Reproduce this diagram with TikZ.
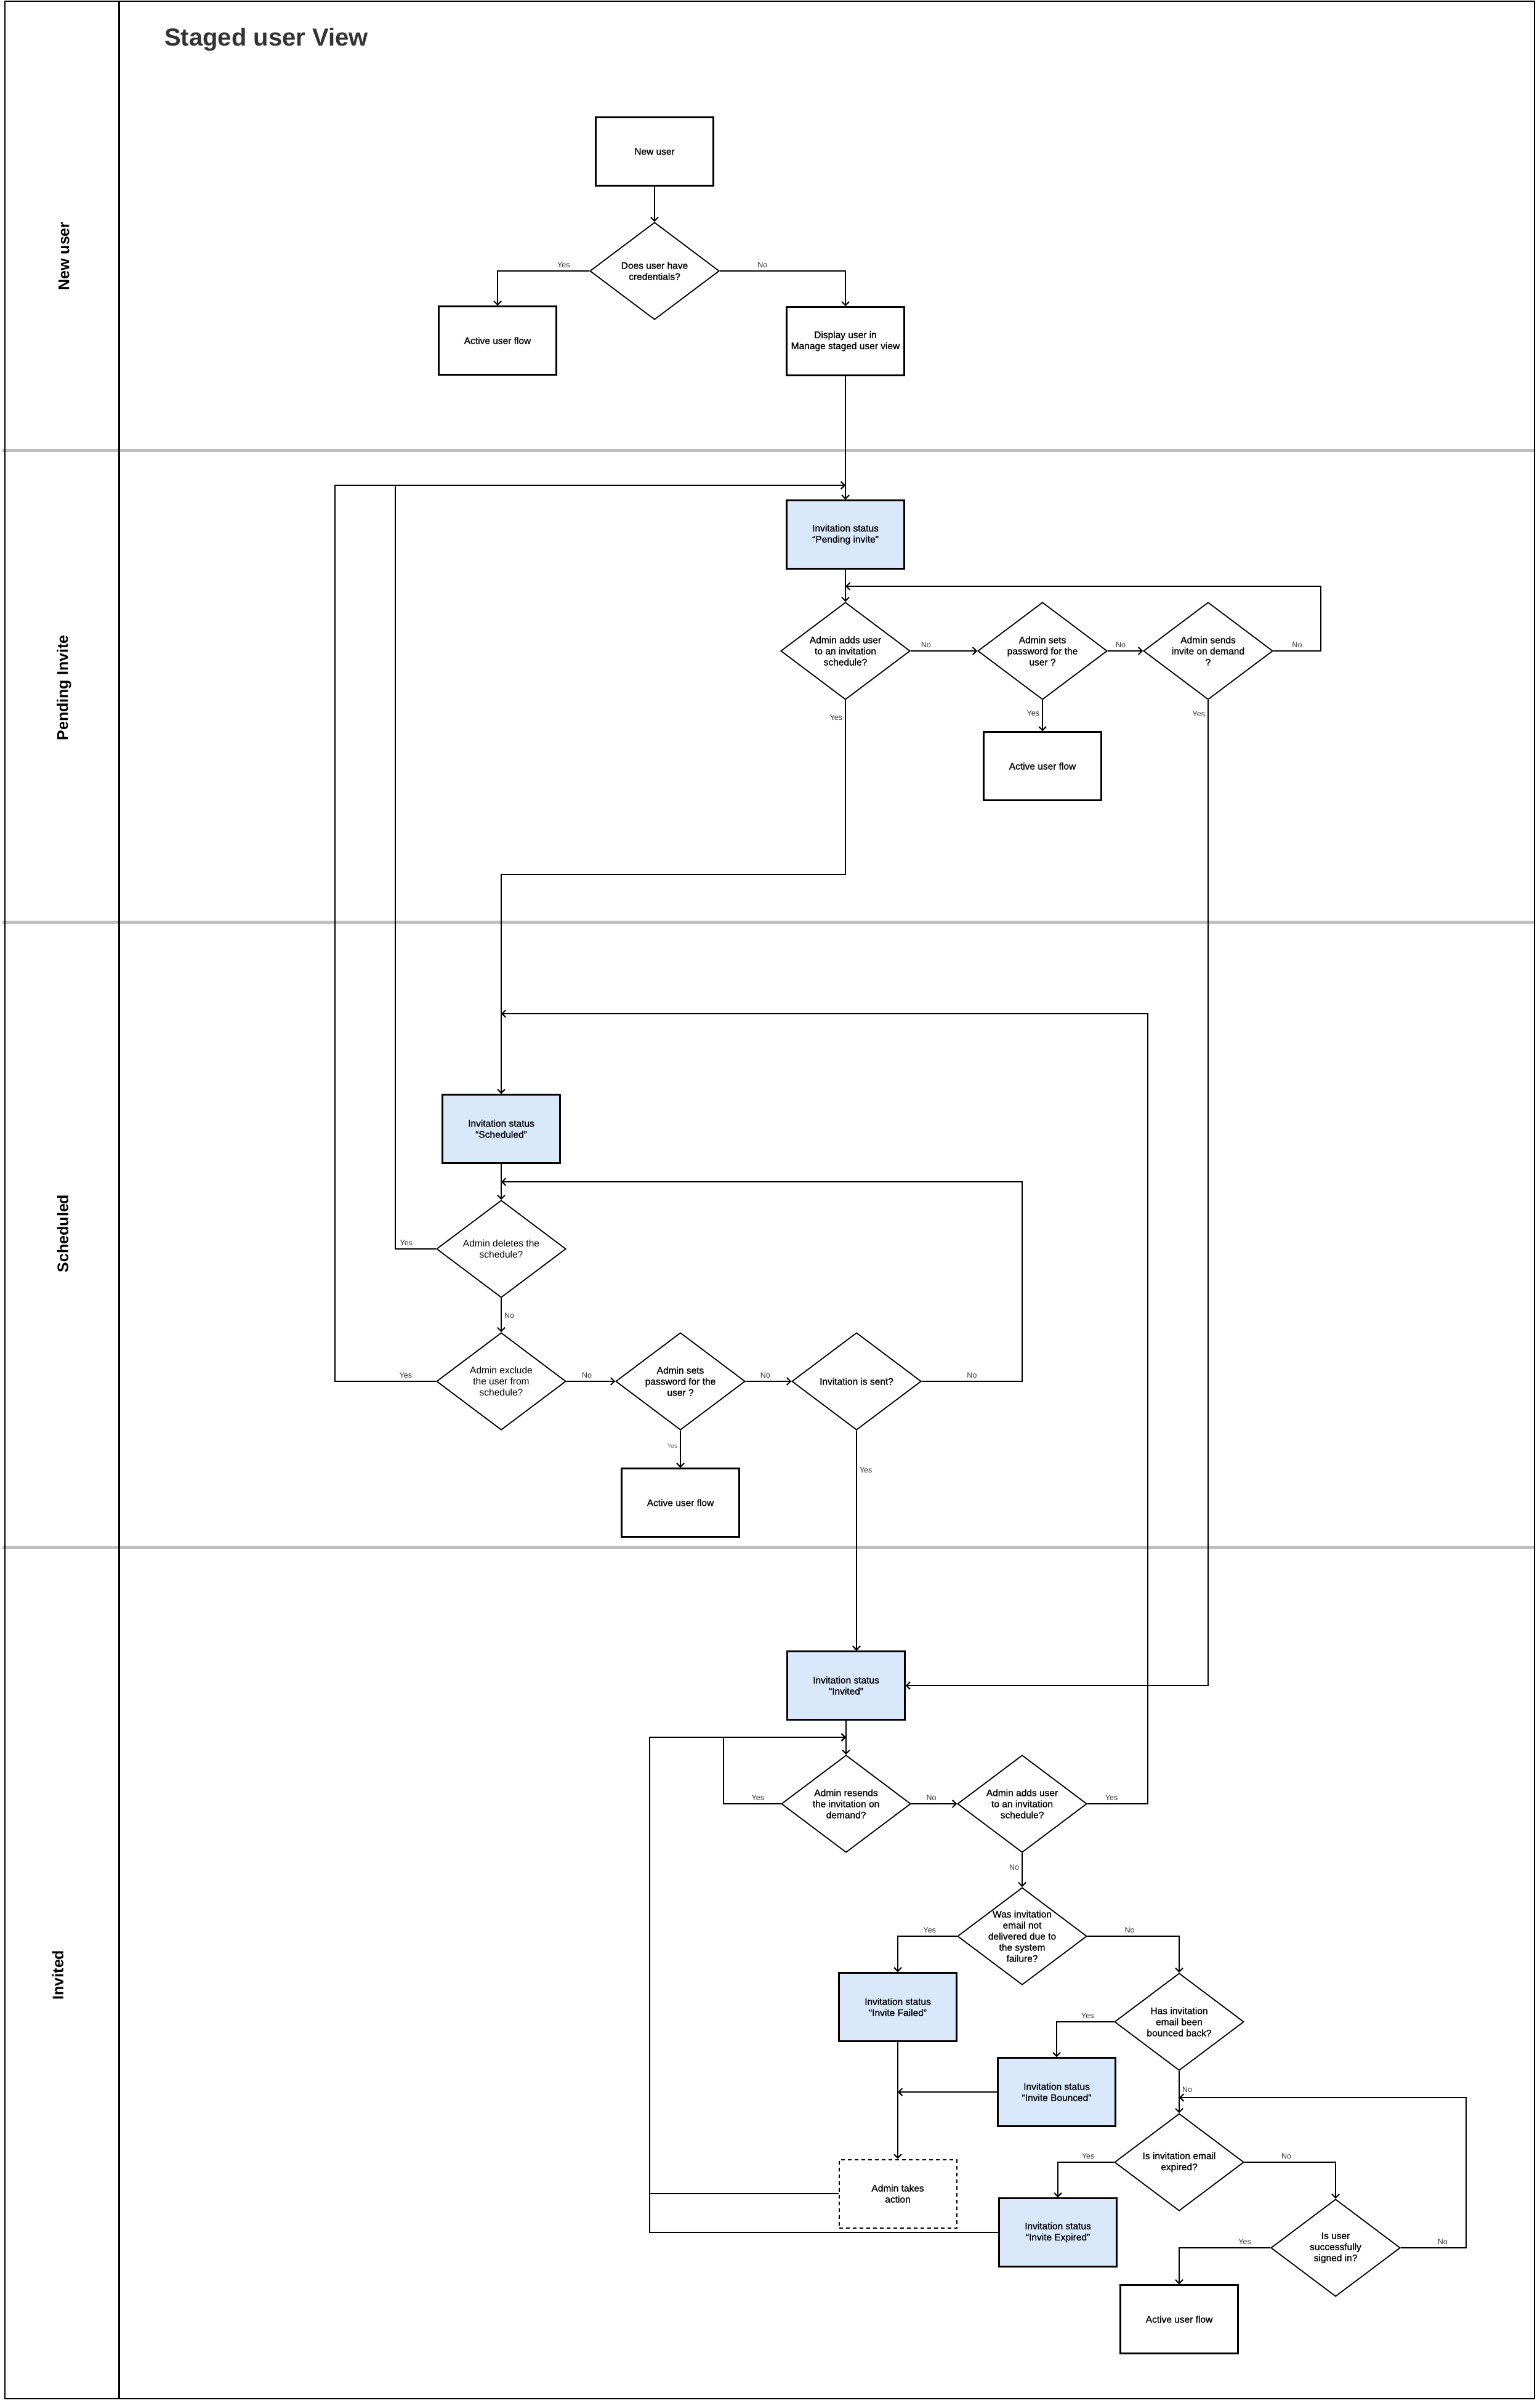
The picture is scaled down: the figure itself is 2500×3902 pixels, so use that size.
\documentclass[tikz,border=0pt]{standalone}
\usepackage{fontspec}
\setmainfont{Liberation Sans}
\newfontfamily\medfamily[FakeBold=1.2]{Liberation Sans}
\usetikzlibrary{shapes.geometric, arrows.meta}

\definecolor{statusblue}{HTML}{DAE8FC}
\definecolor{lanegrey}{HTML}{BFBFBF}
\definecolor{titlegrey}{HTML}{333333}
\definecolor{labelgrey}{HTML}{333333}
\definecolor{softgrey}{HTML}{777777}

\newcommand{\boxfont}{\medfamily\fontsize{15.5}{18}\selectfont}
\newcommand{\plainfont}{\fontsize{15.5}{18}\selectfont}
\newcommand{\lblfont}{\fontsize{12.5}{15}\selectfont}
\newcommand{\yesfont}{\fontsize{10}{12}\selectfont}
\newcommand{\lanefont}{\fontsize{25}{30}\selectfont\bfseries}
\newcommand{\headfont}{\fontsize{40}{48}\selectfont\bfseries}

\tikzset{
  box/.style={draw, line width=2.5pt, fill=white, minimum width=191pt, minimum height=111pt, align=center, font=\boxfont, inner sep=2pt},
  status/.style={box, fill=statusblue},
  todo/.style={box, line width=2pt, dash pattern=on 6pt off 5pt},
  dia/.style={diamond, draw, line width=1.8pt, fill=white, aspect=1.33, inner sep=-6pt, minimum width=210pt, minimum height=158pt, align=center, font=\boxfont},
  wire/.style={line width=2pt},
  flow/.style={wire, -{Straight Barb[length=6pt, width=12pt]}},
  lbl/.style={font=\lblfont, text=labelgrey, inner sep=4pt},
  lane/.style={font=\lanefont, rotate=90, inner sep=0pt},
  heading/.style={font=\headfont, text=titlegrey, anchor=west, inner sep=0pt}
}

\begin{document}
\begin{tikzpicture}[x=1pt, y=-1pt]
\useasboundingbox (0,0) rectangle (2500,3902);

% swimlanes
\draw[lanegrey, line width=5pt] (4,731.7) -- (2492,731.7);
\draw[lanegrey, line width=5pt] (4,1497.5) -- (2492,1497.5);
\draw[lanegrey, line width=5pt] (4,2512) -- (2492,2512);
\draw[line width=2.5pt] (8,2) rectangle (2492,3895);
\draw[line width=2.5pt] (193.5,2) -- (193.5,3895);

\node[heading] (title) at (267,64) {Staged user View};
\node[lane] (lane-new) at (104,416) {New user};
\node[lane] (lane-pend) at (104,1117) {Pending Invite};
\node[lane] (lane-sched) at (102,2003) {Scheduled};
\node[lane] (lane-inv) at (94,3207) {Invited};

% new user
\node[box] (newuser) at (1063,246) {New user};
\node[dia] (cred) at (1063,440) {Does user have\\credentials?};
\node[box] (active1) at (808,553) {Active user flow};
\node[box] (display) at (1373,554) {Display user in\\Manage staged user view};

% pending invite
\node[status] (pending) at (1373,868) {Invitation status\\“Pending invite”};
\node[dia] (addsched) at (1373,1057) {Admin adds user\\to an invitation\\schedule?};
\node[dia] (setpw1) at (1693,1057) {Admin sets\\password for the\\user ?};
\node[dia] (sendinv) at (1962,1057) {Admin sends\\invite on demand\\?};
\node[box] (active2) at (1693,1244) {Active user flow};

% scheduled
\node[status] (sched) at (814,1833) {Invitation status\\“Scheduled”};
\node[dia, font=\plainfont] (delsched) at (814,2028) {Admin deletes the\\schedule?};
\node[dia, font=\plainfont] (exclude) at (814,2243) {Admin exclude\\the user from\\schedule?};
\node[dia] (setpw2) at (1105,2243) {Admin sets\\password for the\\user ?};
\node[dia] (sent) at (1391,2243) {Invitation is sent?};
\node[box] (active3) at (1105,2440) {Active user flow};

% invited
\node[status] (invited) at (1374,2737) {Invitation status\\“Invited”};
\node[dia] (resend) at (1374,2929) {Admin resends\\the invitation on\\demand?};
\node[dia] (addsched2) at (1660,2929) {Admin adds user\\to an invitation\\schedule?};
\node[dia] (fail) at (1660,3144) {Was invitation\\email not\\delivered due to\\the system\\failure?};
\node[status] (failed) at (1458,3259) {Invitation status\\“Invite Failed”};
\node[dia] (bounced) at (1915,3283) {Has invitation\\email been\\bounced back?};
\node[status] (bouncedbox) at (1716,3397) {Invitation status\\“Invite Bounced”};
\node[dia] (expired) at (1915,3511) {Is invitation email\\expired?};
\node[todo] (action) at (1458,3562) {Admin takes\\action};
\node[status] (expiredbox) at (1718,3625) {Invitation status\\“Invite Expired”};
\node[dia] (signed) at (2169,3650) {Is user\\successfully\\signed in?};
\node[box] (active4) at (1915,3766) {Active user flow};

% bends and joins
\coordinate (pi-top) at (1373,788);
\coordinate (pi-loop) at (1373,952);
\coordinate (pi-r) at (2145,1057);
\coordinate (pi-y) at (1373,1420);
\coordinate (sc-top) at (814,1646);
\coordinate (sc-loop) at (814,1919);
\coordinate (sc-r) at (1660,2243);
\coordinate (del-l) at (642,2028);
\coordinate (exc-l) at (544,2243);
\coordinate (iv-loop) at (1374,2821);
\coordinate (res-l) at (1175,2929);
\coordinate (add-r) at (1864,2929);
\coordinate (iv-x) at (1055,3600);
\coordinate (sg-r) at (2381,3650);
\coordinate (bx-loop) at (1915,3406);

\draw[flow] (newuser) -- (cred);
\draw[flow] (cred.west) -| node[lbl, above, pos=0.14] {Yes} (active1.north);
\draw[flow] (cred.east) -| node[lbl, above, pos=0.17] {No} (display.north);
\draw[flow] (display) -- (pending);

\draw[flow] (pending) -- (addsched);
\draw[flow] (addsched) -- node[lbl, above, pos=0.23] {No} (setpw1);
\draw[flow] (setpw1) -- node[lbl, above, pos=0.37] {No} (sendinv);
\draw[flow] (sendinv.east) -- node[lbl, above] {No} (pi-r) |- (pi-loop);
\draw[flow] (setpw1) -- node[lbl, left, pos=0.43] {Yes} (active2);
\draw[flow] (addsched.south) -- node[lbl, left, pos=0.1] {Yes} (pi-y) -| (sched.north);
\draw[flow] (sendinv.south) -- node[lbl, left, pos=0.3] {Yes} ++(0,75) |- (invited.east);

\draw[flow] (sched) -- (delsched);
\draw[wire] (delsched.west) -- node[lbl, above, pos=0.73] {Yes} (del-l) -- (del-l |- pi-top);
\draw[flow] (exclude.west) -- node[lbl, above, pos=0.3] {Yes} (exc-l) |- (pi-top);
\draw[flow] (delsched) -- node[lbl, right, pos=0.52] {No} (exclude);
\draw[flow] (exclude) -- node[lbl, above, pos=0.42] {No} (setpw2);
\draw[flow] (setpw2) -- node[lbl, above, pos=0.43] {No} (sent);
\draw[flow] (setpw2) -- node[lbl, left, pos=0.42, font=\yesfont, text=softgrey] {Yes} (active3);
\draw[flow] (sent.east) -- node[lbl, above] {No} (sc-r) |- (sc-loop);
\draw[flow] (sent.south) -- node[lbl, right, pos=0.18] {Yes} (sent.south |- invited.north);

\draw[flow] (invited) -- (resend);
\draw[flow] (resend.west) -- node[lbl, above, pos=0.4] {Yes} (res-l) |- (iv-loop);
\draw[flow] (resend) -- node[lbl, above, pos=0.44] {No} (addsched2);
\draw[flow] (addsched2.east) -- node[lbl, above, pos=0.4] {Yes} (add-r) |- (sc-top);
\draw[flow] (addsched2) -- node[lbl, left, pos=0.43] {No} (fail);
\draw[flow] (fail.west) -| node[lbl, above, pos=0.23] {Yes} (failed.north);
\draw[flow] (fail.east) -| node[lbl, above, pos=0.23] {No} (bounced.north);
\draw[flow] (failed) -- (action);
\draw[flow] (bouncedbox.west) -- (bouncedbox.west -| failed);
\draw[flow] (bounced.west) -| node[lbl, above, pos=0.23] {Yes} (bouncedbox.north);
\draw[flow] (bounced) -- node[lbl, right, pos=0.44] {No} (expired);
\draw[flow] (expired.west) -| node[lbl, above, pos=0.23] {Yes} (expiredbox.north);
\draw[flow] (expired.east) -| node[lbl, above, pos=0.23] {No} (signed.north);
\draw[flow] (signed.east) -- node[lbl, above, pos=0.64] {No} (sg-r) |- (bx-loop);
\draw[flow] (signed.west) -| node[lbl, above, pos=0.14] {Yes} (active4.north);
\draw[wire] (action.west) -- (action.west -| iv-x);
\draw[flow] (expiredbox.west) -- (expiredbox.west -| iv-x) |- (iv-loop);
\end{tikzpicture}
\end{document}
